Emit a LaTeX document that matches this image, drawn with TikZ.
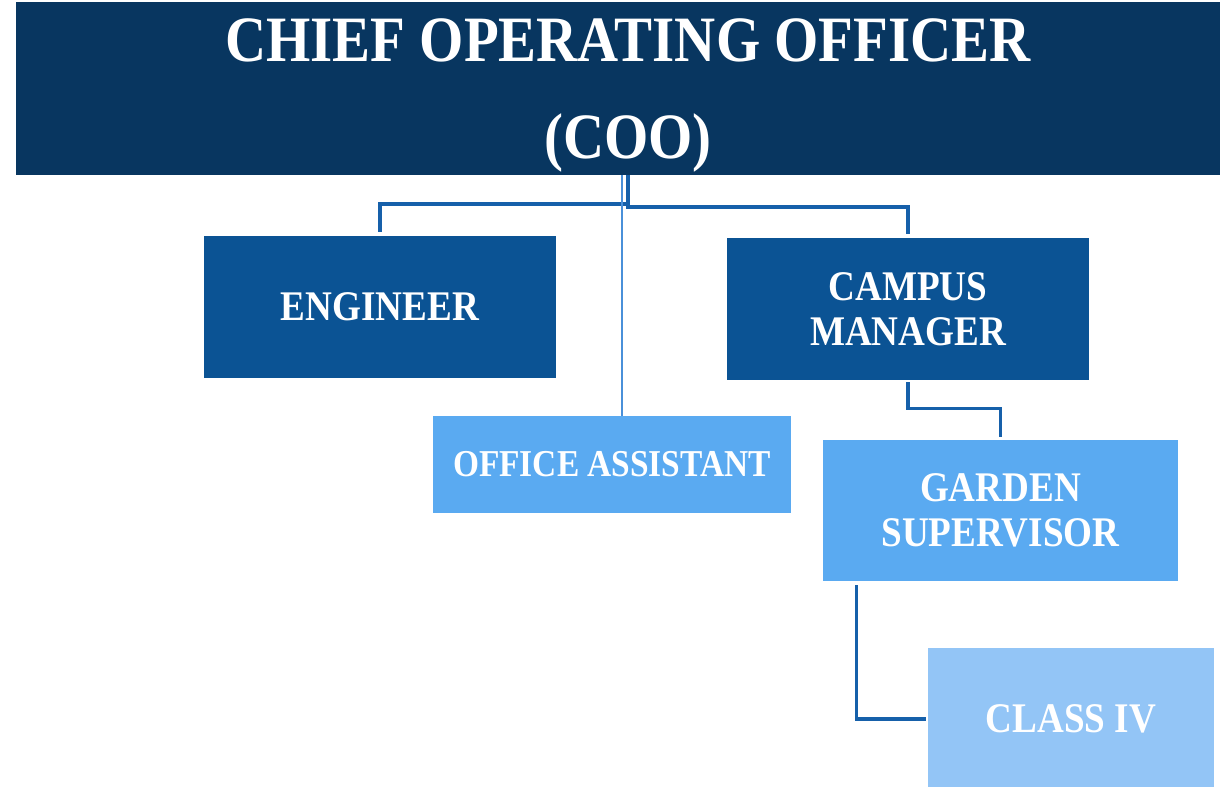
\documentclass[tikz,border=0pt]{standalone}
\usepackage{fontspec}
\setmainfont{Liberation Serif}[FakeStretch=0.88]
\definecolor{COONavy}{RGB}{8,54,96}
\definecolor{MidBlue}{RGB}{11,83,148}
\definecolor{SkyBlue}{RGB}{90,170,241}
\definecolor{PaleBlue}{RGB}{147,197,246}
\definecolor{LinkBlue}{RGB}{22,96,170}
\definecolor{ThinBlue}{RGB}{74,144,217}
\usetikzlibrary{positioning, calc}
\def\pxu{0.025cm}

\begin{document}
\begin{tikzpicture}[x=0.025cm, y=-0.025cm,
	box/.style={inner sep=0pt, align=center, text=white, font=\bfseries\fontsize{30}{32}\selectfont},
	link/.style={draw=LinkBlue, line width=2.4pt},
	thinlink/.style={draw=ThinBlue, line width=1pt}]
	\useasboundingbox (0,0) rectangle (1220,787);
	% direccion
	\node[box, fill=COONavy, minimum width={1204*\pxu}, minimum height={173*\pxu}] (coo) at (618,88.5) {};
	\node[box, font=\bfseries\fontsize{46}{69}\selectfont] (cootext) at (628,95)
		{CHIEF OPERATING OFFICER\\(COO)};
	% primer nivel
	\node[box, fill=MidBlue, minimum width={352*\pxu}, minimum height={142*\pxu}] (eng) at (380,307) {ENGINEER};
	\node[box, fill=MidBlue, minimum width={362*\pxu}, minimum height={142*\pxu}] (cm) at (908,309) {CAMPUS\\MANAGER};
	\node[box, fill=SkyBlue, minimum width={358*\pxu}, minimum height={97*\pxu},
		font=\bfseries\fontsize{27}{30}\selectfont] (oa) at (612,464.5) {OFFICE ASSISTANT};
	% segundo nivel
	\node[box, fill=SkyBlue, minimum width={355*\pxu}, minimum height={141*\pxu}] (gs) at (1000.5,510.5) {GARDEN\\SUPERVISOR};
	\node[box, fill=PaleBlue, minimum width={286*\pxu}, minimum height={142*\pxu}] (c4) at (1071,719) {CLASS IV};
	% conectores
	\coordinate (tap) at (628,175);
	\coordinate (tapthin) at (622,175);
	\draw[link, shorten >=4*\pxu] (tap) -- ++(0,32) -| (cm.north);
	\draw[link, shorten >=4*\pxu] ($(tap)+(0,29)$) -| (eng.north);
	\draw[thinlink] (tapthin) -- (tapthin |- oa.north);
	\draw[link, shorten <=2*\pxu, shorten >=3*\pxu] (cm.south) -- ++(0,28) -| (gs.north);
	\draw[link, shorten <=4*\pxu, shorten >=2*\pxu] ([xshift=34*\pxu]gs.south west) |- (c4.west);
\end{tikzpicture}
\end{document}
